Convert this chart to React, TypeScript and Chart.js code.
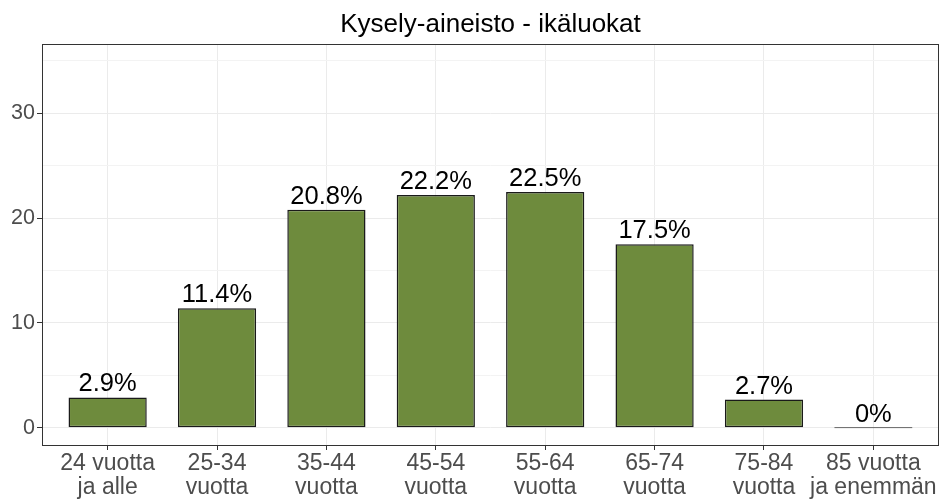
import React, { useEffect, useRef } from "react";
import { Chart, registerables } from "chart.js";

Chart.register(...registerables);

const titleText = "Kysely-aineisto - ikäluokat";
const categories: string[][] = [
  ["24 vuotta", "ja alle"],
  ["25-34", "vuotta"],
  ["35-44", "vuotta"],
  ["45-54", "vuotta"],
  ["55-64", "vuotta"],
  ["65-74", "vuotta"],
  ["75-84", "vuotta"],
  ["85 vuotta", "ja enemmän"],
];
const values: number[] = [2.9, 11.4, 20.8, 22.2, 22.5, 17.5, 2.7, 0];
const yMajorTicks: number[] = [0, 10, 20, 30];
const yMinorTicks: number[] = [5, 15, 25, 35];

const FONT = "'Liberation Sans', Arial, sans-serif";

export default function App() {
  const ref = useRef<HTMLCanvasElement | null>(null);

  useEffect(() => {
    document.body.style.margin = "0";
    const canvas = ref.current;
    if (!canvas) return;

    const borderPlugin = {
      id: "panelBorder",
      afterDraw(chart: any) {
        const { ctx, chartArea } = chart;
        ctx.save();
        ctx.strokeStyle = "#333333";
        ctx.lineWidth = 1;
        ctx.strokeRect(
          chartArea.left + 0.5,
          chartArea.top + 0.5,
          chartArea.right - chartArea.left - 1,
          chartArea.bottom - chartArea.top - 1
        );
        ctx.restore();
      },
    };

    const titlePlugin = {
      id: "panelTitle",
      afterDraw(chart: any) {
        const { ctx, chartArea } = chart;
        ctx.save();
        ctx.font = `26px ${FONT}`;
        ctx.fillStyle = "#000000";
        ctx.textAlign = "center";
        ctx.textBaseline = "alphabetic";
        ctx.fillText(titleText, (chartArea.left + chartArea.right) / 2, 32);
        ctx.restore();
      },
    };

    const labelPlugin = {
      id: "barLabels",
      afterDatasetsDraw(chart: any) {
        const { ctx } = chart;
        const meta = chart.getDatasetMeta(0);
        ctx.save();
        ctx.font = `25.5px ${FONT}`;
        ctx.fillStyle = "#000000";
        ctx.textAlign = "center";
        ctx.textBaseline = "alphabetic";
        meta.data.forEach((bar: any, i: number) => {
          ctx.fillText(`${values[i]}%`, bar.x, bar.y - 6);
        });
        ctx.restore();
      },
    };

    const chart = new Chart(canvas, {
      type: "bar",
      data: {
        datasets: [
          {
            data: values.map((v, i) => ({ x: i + 1, y: v })),
            backgroundColor: "#6E8B3D",
            borderColor: "#1a1a1a",
            borderWidth: 1.5,
            borderSkipped: false,
            barPercentage: 0.715,
            categoryPercentage: 1,
            minBarLength: 1,
          } as any,
        ],
      },
      options: {
        animation: false,
        responsive: false,
        layout: { padding: { top: 44, right: 4, left: 0, bottom: 0 } },
        plugins: {
          legend: { display: false },
          title: { display: false },
          tooltip: { enabled: false },
        },
        scales: {
          x: {
            type: "linear",
            offset: false,
            min: 0.4,
            max: 8.6,
            afterBuildTicks: (s: any) => {
              s.ticks = categories.map((_, i) => ({ value: i + 1 }));
            },
            afterFit: (s: any) => {
              s.height = 54;
            },
            ticks: {
              callback: (v: any) => categories[Math.round(Number(v)) - 1] ?? "",
              font: { family: FONT, size: 23, lineHeight: 1.07 },
              color: "#4d4d4d",
              maxRotation: 0,
              autoSkip: false,
              padding: 1,
            },
            grid: {
              offset: false,
              color: "#ebebeb",
              lineWidth: 1,
              tickLength: 4,
              tickColor: "#333333",
            },
            border: { display: false },
          },
          y: {
            type: "linear",
            min: -1.73,
            max: 36.6,
            afterBuildTicks: (s: any) => {
              s.ticks = [...yMajorTicks, ...yMinorTicks]
                .sort((a, b) => a - b)
                .map((v) => ({ value: v }));
            },
            afterFit: (s: any) => {
              s.width = 42;
            },
            ticks: {
              callback: (v: any) =>
                yMajorTicks.includes(Number(v)) ? String(v) : "",
              font: { family: FONT, size: 21.5 },
              color: "#4d4d4d",
              padding: 2,
            },
            grid: {
              color: (c: any) =>
                yMajorTicks.includes(c.tick?.value) ? "#ebebeb" : "#f3f3f3",
              lineWidth: 1,
              tickLength: 5,
              tickColor: (c: any) =>
                yMajorTicks.includes(c.tick?.value) ? "#333333" : "rgba(0,0,0,0)",
            },
            border: { display: false },
          },
        },
      },
      plugins: [borderPlugin, titlePlugin, labelPlugin],
    });

    return () => chart.destroy();
  }, []);

  return (
    <div style={{ width: 943, height: 500 }}>
      <canvas ref={ref} width={943} height={500} style={{ display: "block" }} />
    </div>
  );
}
